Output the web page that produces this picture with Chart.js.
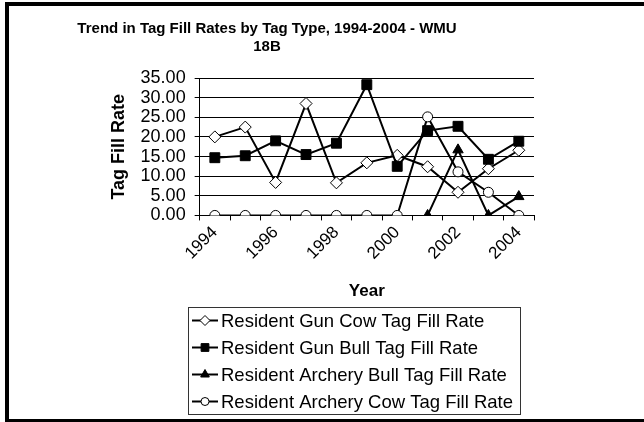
<!DOCTYPE html>
<html>
<head>
<meta charset="utf-8">
<script src="https://cdn.jsdelivr.net/npm/chart.js@4.4.0/dist/chart.umd.min.js"></script>
<style>
  html, body { margin: 0; padding: 0; background: #fff; }
  #wrap { position: relative; width: 644px; height: 422px; overflow: hidden; }
</style>
</head>
<body>
<div id="wrap"><canvas id="chart" width="644" height="422"></canvas></div>
<script>
// data
const years = ['1994', '1995', '1996', '1997', '1998', '1999', '2000', '2001', '2002', '2003', '2004'];
const shownYears = ['1994', '1996', '1998', '2000', '2002', '2004'];
const gunCow = [20.0, 22.5, 8.4, 28.5, 8.3, 13.4, 15.3, 12.4, 5.9, 11.9, 16.6];
const gunBull = [14.7, 15.2, 19.0, 15.5, 18.4, 33.3, 12.5, 21.6, 22.7, 14.3, 18.9];
const archeryBull = [null, null, null, null, null, null, null, 0, 16.7, 0, 4.8];
const archeryCow = [0, 0, 0, 0, 0, 0, 0, 25.1, 11.1, 5.9, 0];
const seriesNames = [
  'Resident Gun Cow Tag Fill Rate',
  'Resident Gun Bull Tag Fill Rate',
  'Resident Archery Bull Tag Fill Rate',
  'Resident Archery Cow Tag Fill Rate'
];
const yMin = 0, yMax = 35, yStep = 5;

const FONT = 'Arial, "Liberation Sans", sans-serif';

function series(i, data, style, fill, r, legendR, order) {
  return {
    label: seriesNames[i],
    data: data,
    borderColor: '#000',
    borderWidth: 2,
    pointStyle: style,
    pointRadius: r,
    pointHoverRadius: r,
    pointBackgroundColor: fill,
    pointBorderColor: '#000',
    pointBorderWidth: 1,
    legendRadius: legendR,
    tension: 0,
    spanGaps: false,
    order: order
  };
}

// black frame round the picture (open on the right)
const frame = {
  id: 'frame',
  beforeDraw(chart) {
    const ctx = chart.ctx;
    ctx.save();
    ctx.fillStyle = '#fff';
    ctx.fillRect(0, 0, chart.width, chart.height);
    ctx.fillStyle = '#000';
    ctx.fillRect(5, 2, chart.width - 5, 4);
    ctx.fillRect(5, 2, 4, chart.height - 2);
    ctx.fillRect(5, chart.height - 3, chart.width - 5, 3);
    ctx.restore();
  }
};

// boxed legend, one item per row, under the axis title
const boxLegend = {
  id: 'boxLegend',
  afterDraw(chart) {
    const ctx = chart.ctx;
    const x0 = 188, y0 = 307, w = 332, h = 107;
    const row = h / chart.data.datasets.length;
    ctx.save();
    ctx.strokeStyle = '#333';
    ctx.lineWidth = 1;
    ctx.strokeRect(x0 + 0.5, y0 + 0.5, w, h);
    ctx.font = '18.5px ' + FONT;
    ctx.textBaseline = 'middle';
    chart.data.datasets.forEach((ds, i) => {
      const cy = Math.round(y0 + row * (i + 0.5)) + 0.5;
      ctx.strokeStyle = '#000';
      ctx.lineWidth = 2;
      ctx.beginPath();
      ctx.moveTo(x0 + 4, cy);
      ctx.lineTo(x0 + 30, cy);
      ctx.stroke();
      ctx.fillStyle = ds.pointBackgroundColor;
      ctx.lineWidth = 1;
      Chart.helpers.drawPoint(ctx, {
        pointStyle: ds.pointStyle, radius: ds.legendRadius, borderWidth: 1, rotation: 0
      }, x0 + 17, cy);
      ctx.fillStyle = '#000';
      ctx.fillText(ds.label, x0 + 33, cy + 1);
    });
    ctx.restore();
  }
};

new Chart(document.getElementById('chart'), {
  type: 'line',
  data: {
    labels: years,
    datasets: [
      series(0, gunCow, 'rectRot', '#fff', 6, 5, 3),
      series(1, gunBull, 'rect', '#000', 7, 5.5, 2),
      series(2, archeryBull, 'triangle', '#000', 6, 5, 1),
      series(3, archeryCow, 'circle', '#fff', 5, 4, 0)
    ]
  },
  options: {
    responsive: false,
    animation: false,
    layout: { padding: { left: 0, right: 110, top: 20, bottom: 120 } },
    plugins: {
      legend: { display: false },
      tooltip: { enabled: false },
      title: {
        display: true,
        text: ['Trend in Tag Fill Rates by Tag Type, 1994-2004 - WMU', '18B'],
        color: '#000',
        font: { family: FONT, size: 15, weight: 'bold', lineHeight: 1.2 },
        padding: { top: 0, bottom: 22 }
      }
    },
    scales: {
      x: {
        offset: true,
        grid: { offset: true, drawOnChartArea: false, drawTicks: true, tickLength: 5, color: '#000' },
        border: { color: '#000', width: 1 },
        ticks: {
          autoSkip: false, minRotation: 45, maxRotation: 45, padding: 2,
          color: '#000', font: { family: FONT, size: 17 },
          callback: function (v) {
            const lab = this.getLabelForValue(v);
            return shownYears.includes(lab) ? lab : '';
          }
        },
        title: {
          display: true, text: 'Year', color: '#000',
          font: { family: FONT, size: 17, weight: 'bold' },
          padding: { top: 16, bottom: 0 }
        }
      },
      y: {
        min: yMin, max: yMax,
        grid: { color: '#000', tickLength: 5, drawTicks: true },
        border: { color: '#000', width: 1 },
        ticks: {
          stepSize: yStep, autoSkip: false, padding: 9, color: '#000',
          font: { family: FONT, size: 18 },
          callback: v => v.toFixed(2)
        },
        title: {
          display: true, text: 'Tag Fill Rate', color: '#000',
          font: { family: FONT, size: 18, weight: 'bold' },
          padding: { top: 108, bottom: 2 }
        }
      }
    }
  },
  plugins: [frame, boxLegend]
});
</script>
</body>
</html>
